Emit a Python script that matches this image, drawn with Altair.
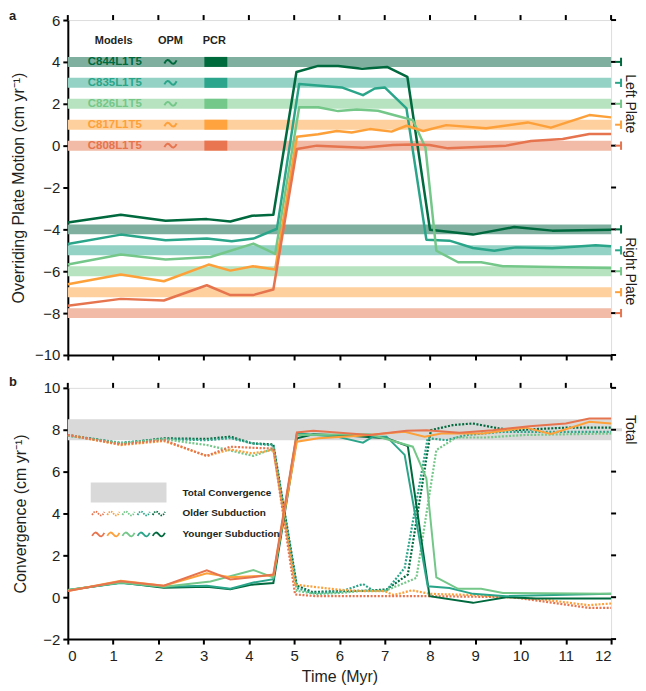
import altair as alt
import pandas as pd

# ---------------- data ----------------
MODELS = ["C844L1T5", "C835L1T5", "C826L1T5", "C817L1T5", "C808L1T5"]
LINE_COLORS = ["#00693e", "#2aa58a", "#74c789", "#fda03a", "#e6744e"]
BAND_COLORS = ["#7fb09f", "#93d2c4", "#b8e3c1", "#fed09e", "#f1bba7"]
PCR_COLORS = ["#006a3d", "#2ba68c", "#74c88a", "#fea33e", "#e8754f"]
LEFT_PLATE_REF = [4, 3, 2, 1, 0]
RIGHT_PLATE_REF = [-4, -5, -6, -7, -8]
TOTAL_BAND = [7.5, 8.5]
TOTAL_REF = 8

# overriding plate motion (panel a)
PM_T = {
    "C844L1T5": [0, 1.17, 2.16, 3.07, 3.59, 4.07, 4.54, 5.05, 5.53, 5.97, 6.5, 7.05, 7.5, 8.0, 8.95, 9.86, 10.7, 12],
    "C835L1T5": [0, 1.17, 2.16, 3.07, 3.62, 4.1, 4.62, 5.11, 6.05, 6.52, 6.78, 7.0, 7.48, 7.92, 8.43, 8.95, 9.42, 9.9, 10.7, 11.66, 12],
    "C826L1T5": [0, 1.17, 2.16, 3.15, 4.1, 4.58, 5.11, 5.53, 5.97, 6.38, 6.85, 7.26, 7.62, 7.9, 8.14, 8.62, 9.13, 9.61, 12],
    "C817L1T5": [0, 1.17, 2.12, 3.11, 3.59, 4.09, 4.58, 5.06, 5.53, 5.94, 6.27, 6.67, 7.15, 7.48, 7.85, 8.36, 9.24, 10.16, 10.67, 11.52, 12],
    "C808L1T5": [0, 1.17, 2.12, 3.07, 3.59, 4.09, 4.54, 5.06, 5.5, 6.01, 6.52, 7.18, 7.62, 7.99, 8.4, 9.68, 10.23, 10.93, 11.52, 12],
}
PM_V = {
    "C844L1T5": [-3.67, -3.3, -3.59, -3.51, -3.62, -3.35, -3.3, 3.52, 3.81, 3.8, 3.67, 3.76, 3.29, -4.02, -4.25, -3.89, -4.06, -4.02],
    "C835L1T5": [-4.7, -4.25, -4.52, -4.44, -4.57, -4.44, -3.97, 2.94, 2.78, 2.41, 2.73, 2.78, 1.78, -4.49, -4.54, -4.89, -5.02, -4.86, -4.9, -4.76, -4.81],
    "C826L1T5": [-5.68, -5.2, -5.44, -5.32, -4.68, -5.17, 1.83, 1.83, 1.65, 1.73, 1.67, 1.43, 1.22, -0.1, -5.02, -5.57, -5.57, -5.76, -5.84],
    "C817L1T5": [-6.62, -6.16, -6.48, -5.68, -5.97, -5.76, -5.92, 0.43, 0.54, 0.7, 0.63, 0.79, 0.67, 0.95, 0.7, 0.98, 0.83, 1.11, 0.86, 1.46, 1.35],
    "C808L1T5": [-7.65, -7.32, -7.4, -6.67, -7.14, -7.14, -6.87, -0.16, 0.0, -0.05, -0.1, 0.03, 0.06, 0.03, -0.13, 0.0, 0.22, 0.32, 0.56, 0.56],
}

# older subduction convergence (panel b, dotted)
OLD_T = {
    "C844L1T5": [0, 1.17, 2.12, 3.07, 3.59, 4.07, 4.54, 5.06, 5.4, 6.0, 6.5, 7.04, 7.51, 8.02, 8.5, 8.94, 9.53, 9.9, 10.34, 11.0, 12],
    "C835L1T5": [0, 1.17, 2.12, 3.07, 3.59, 4.07, 4.54, 5.06, 5.4, 6.0, 6.52, 6.74, 7.04, 7.44, 7.95, 8.36, 8.8, 9.6, 12],
    "C826L1T5": [0, 1.17, 2.12, 3.07, 4.1, 4.54, 5.06, 5.5, 6.0, 6.5, 7.0, 7.4, 7.7, 8.14, 8.58, 9.24, 10.1, 12],
    "C817L1T5": [0, 1.17, 2.12, 3.07, 3.59, 4.07, 4.54, 5.02, 5.94, 6.5, 7.0, 7.2, 7.6, 8.0, 9.0, 10.5, 11.5, 12],
    "C808L1T5": [0, 1.17, 2.12, 3.07, 3.59, 4.07, 4.54, 5.02, 5.5, 7.0, 8.0, 9.8, 10.5, 11.52, 12],
}
OLD_V = {
    "C844L1T5": [7.75, 7.35, 7.59, 7.56, 7.67, 7.35, 7.3, 0.55, 0.25, 0.29, 0.3, 0.37, 1.08, 7.98, 8.22, 8.3, 8.06, 7.98, 8.03, 8.1, 8.1],
    "C835L1T5": [7.72, 7.38, 7.55, 7.5, 7.6, 7.35, 7.25, 0.44, 0.2, 0.25, 0.63, 0.32, 0.32, 1.4, 7.6, 7.5, 7.75, 7.9, 7.9],
    "C826L1T5": [7.72, 7.35, 7.55, 7.27, 6.75, 7.1, 0.3, 0.15, 0.2, 0.3, 0.3, 0.65, 0.92, 7.03, 7.63, 7.63, 7.75, 7.82],
    "C817L1T5": [7.75, 7.27, 7.46, 6.75, 7.06, 6.87, 7.03, 0.6, 0.37, 0.29, 0.29, 0.1, 0.33, 0.16, 0.1, -0.11, -0.38, -0.3],
    "C808L1T5": [7.75, 7.3, 7.5, 6.75, 7.19, 7.14, 7.1, 0.13, 0.05, 0.05, 0.05, 0.0, -0.2, -0.51, -0.51],
}

# younger subduction convergence (panel b, solid)
YNG_T = {
    "C844L1T5": [0, 1.17, 2.12, 3.07, 3.59, 4.07, 4.54, 5.06, 5.42, 6.23, 7.04, 7.51, 7.99, 8.95, 9.68, 10.34, 12],
    "C835L1T5": [0, 1.17, 2.12, 3.07, 3.59, 4.1, 4.54, 5.06, 5.94, 6.52, 6.74, 7.04, 7.44, 7.95, 8.43, 8.95, 9.68, 12],
    "C826L1T5": [0, 1.17, 2.12, 3.15, 4.1, 4.54, 5.06, 6.67, 7.62, 7.92, 8.14, 8.62, 9.13, 9.61, 12],
    "C817L1T5": [0, 1.17, 2.12, 3.07, 3.59, 4.07, 4.54, 5.06, 5.53, 6.45, 7.44, 7.88, 8.25, 9.17, 10.12, 10.67, 11.52, 12],
    "C808L1T5": [0, 1.17, 2.12, 3.07, 3.59, 4.07, 4.54, 5.06, 5.42, 6.67, 7.48, 7.92, 8.65, 9.39, 10.2, 11.0, 11.52, 12],
}
YNG_V = {
    "C844L1T5": [0.33, 0.7, 0.45, 0.5, 0.38, 0.6, 0.68, 7.59, 7.78, 7.71, 7.59, 7.22, 0.05, -0.27, 0.0, -0.06, -0.06],
    "C835L1T5": [0.35, 0.68, 0.5, 0.55, 0.4, 0.7, 0.86, 7.83, 7.67, 7.38, 7.67, 7.67, 6.8, 0.52, 0.44, 0.16, 0.05, 0.16],
    "C826L1T5": [0.35, 0.7, 0.5, 0.75, 1.3, 0.95, 7.75, 7.78, 7.19, 5.68, 0.95, 0.4, 0.4, 0.2, 0.16],
    "C817L1T5": [0.3, 0.78, 0.55, 1.14, 0.95, 1.0, 1.05, 7.43, 7.59, 7.71, 7.9, 7.67, 7.82, 7.82, 8.1, 7.8, 8.38, 8.3],
    "C808L1T5": [0.3, 0.76, 0.55, 1.29, 0.85, 0.95, 1.08, 7.87, 7.95, 7.75, 7.95, 7.98, 7.86, 7.98, 8.17, 8.3, 8.54, 8.54],
}

X_TICKS = list(range(0, 13))
YA_TICKS = list(range(-10, 7, 2))
YB_TICKS = list(range(-2, 11, 2))

# ---------------- tables ----------------
COLOR_OF = dict(zip(MODELS, LINE_COLORS))
BAND_OF = dict(zip(MODELS, BAND_COLORS))
PCR_OF = dict(zip(MODELS, PCR_COLORS))


def long(tdict, vdict):
    rows = []
    for m in MODELS:
        for t, v in zip(tdict[m], vdict[m]):
            rows.append({"model": m, "t": t, "v": v, "c": COLOR_OF[m]})
    return pd.DataFrame(rows)


df_pm = long(PM_T, PM_V)
df_old = long(OLD_T, OLD_V)
df_yng = long(YNG_T, YNG_V)

band_rows = []
for i, m in enumerate(MODELS):
    for side, ref in (("left", LEFT_PLATE_REF), ("right", RIGHT_PLATE_REF)):
        band_rows.append({"model": m, "side": side, "v": ref[i], "bc": BAND_OF[m],
                          "c": COLOR_OF[m], "pc": PCR_OF[m]})
df_band = pd.DataFrame(band_rows)
df_left = df_band[df_band.side == "left"]

df_xt = pd.DataFrame({"t": X_TICKS})
df_yat = pd.DataFrame({"v": YA_TICKS})
df_ybt = pd.DataFrame({"v": YB_TICKS})
df_side = pd.DataFrame({"label": ["Left Plate", "Right Plate"], "v": [2, -6]})
df_total = pd.DataFrame({"lo": [TOTAL_BAND[0]], "hi": [TOTAL_BAND[1]], "ref": [TOTAL_REF], "label": ["Total"]})

# ---------------- chart ----------------
W, H1, H2 = 545, 336, 252
FONT = "Liberation Sans"
TXT = "#231f20"
xs = alt.Scale(domain=[0, 12], nice=False, zero=False)
ysa = alt.Scale(domain=[-10, 6], nice=False, zero=False)
ysb = alt.Scale(domain=[-2, 10], nice=False, zero=False)

xa_axis = alt.Axis(values=X_TICKS, labels=False, title=None, tickSize=5, tickWidth=2,
                   domainWidth=2, domainColor="black", tickColor="black", grid=False)
xb_axis = alt.Axis(values=X_TICKS, title="Time (Myr)", tickSize=5, tickWidth=2, labelFontSize=15,
                   titleFontSize=16, titleFontWeight="normal", labelPadding=4, titlePadding=6,
                   domainWidth=2, domainColor="black", tickColor="black", grid=False,
                   labelColor=TXT, titleColor=TXT, labelFont=FONT, titleFont=FONT)


def yaxis(vals, title, pad):
    return alt.Axis(values=vals, title=title, tickSize=5, tickWidth=2, labelFontSize=15,
                    titleFontSize=16, titleFontWeight="normal", labelPadding=3, titlePadding=pad,
                    domainWidth=2, domainColor="black", tickColor="black", grid=False,
                    labelColor=TXT, titleColor=TXT, labelFont=FONT, titleFont=FONT)


# ---- panel a ----
bands = alt.Chart(df_band).mark_rule(strokeWidth=10).encode(
    y=alt.Y("v:Q", scale=ysa), x=alt.value(0), x2=alt.value(W),
    color=alt.Color("bc:N", scale=None))

lines_a = alt.Chart(df_pm).mark_line(strokeWidth=2.5, strokeJoin="round").encode(
    x=alt.X("t:Q", scale=xs, axis=xa_axis),
    y=alt.Y("v:Q", scale=ysa, axis=yaxis(YA_TICKS, "Overriding Plate Motion (cm yr⁻¹)", 8)),
    color=alt.Color("c:N", scale=None), detail="model:N", order="t:Q")

top_ticks_a = alt.Chart(df_xt).mark_rule(strokeWidth=2, color="black").encode(
    x=alt.X("t:Q", scale=xs), y=alt.value(0), y2=alt.value(-5))
right_ticks_a = alt.Chart(df_yat).mark_rule(strokeWidth=2, color="black").encode(
    y=alt.Y("v:Q", scale=ysa), x=alt.value(W), x2=alt.value(W + 5))

headers = []
for lab, px in (("Models", 46), ("OPM", 103), ("PCR", 147)):
    headers.append(alt.Chart(df_xt.head(1)).mark_text(
        text=lab, font=FONT, fontSize=11, fontWeight="bold", color=TXT, baseline="middle").encode(
        x=alt.value(px), y=alt.value(21)))

model_labels = alt.Chart(df_left).mark_text(
    font=FONT, fontSize=11.5, fontWeight="bold", align="left", baseline="middle", dx=0).encode(
    x=alt.value(20), y=alt.Y("v:Q", scale=ysa), text="model:N", color=alt.Color("c:N", scale=None))

WAVE = "M-1,0.25 C-0.65,-0.45 -0.35,-0.45 0,0 C0.35,0.45 0.65,0.45 1,-0.25"
opm = alt.Chart(df_left).mark_point(shape=WAVE, size=150, strokeWidth=2, filled=False, opacity=1).encode(
    x=alt.value(103), y=alt.Y("v:Q", scale=ysa), color=alt.Color("c:N", scale=None))

pcr = alt.Chart(df_left).mark_rule(strokeWidth=10).encode(
    x=alt.value(137), x2=alt.value(160), y=alt.Y("v:Q", scale=ysa), color=alt.Color("pc:N", scale=None))

mk_h = alt.Chart(df_band).mark_rule(strokeWidth=2).encode(
    x=alt.value(W + 4), x2=alt.value(W + 10), y=alt.Y("v:Q", scale=ysa), color=alt.Color("c:N", scale=None))
mk_v = alt.Chart(df_band).transform_calculate(lo="datum.v - 0.2", hi="datum.v + 0.2").mark_rule(strokeWidth=2).encode(
    x=alt.value(W + 10), y=alt.Y("lo:Q", scale=ysa), y2="hi:Q", color=alt.Color("c:N", scale=None))

side_labels = alt.Chart(df_side).mark_text(angle=90, font=FONT, fontSize=14, color=TXT, baseline="middle").encode(
    x=alt.value(W + 19), y=alt.Y("v:Q", scale=ysa), text="label:N")

lab_a = alt.Chart(df_xt.head(1)).mark_text(text="a", font=FONT, fontSize=13, fontWeight="bold",
                                           color=TXT, align="left", baseline="middle").encode(
    x=alt.value(-59), y=alt.value(-4))

panel_a = alt.layer(bands, *headers, model_labels, opm, pcr, lines_a, top_ticks_a, right_ticks_a,
                    mk_h, mk_v, side_labels, lab_a).properties(width=W, height=H1)

# ---- panel b ----
total_band = alt.Chart(df_total).mark_rect(color="#d9d9d9").encode(
    y=alt.Y("hi:Q", scale=ysb), y2="lo:Q", x=alt.value(0), x2=alt.value(W))

old_lines = alt.Chart(df_old).mark_line(strokeWidth=2.2, strokeDash=[2, 1.6]).encode(
    x=alt.X("t:Q", scale=xs, axis=xb_axis),
    y=alt.Y("v:Q", scale=ysb, axis=yaxis(YB_TICKS, "Convergence (cm yr⁻¹)", 14)),
    color=alt.Color("c:N", scale=None), detail="model:N", order="t:Q")

yng_lines = alt.Chart(df_yng).mark_line(strokeWidth=2).encode(
    x=alt.X("t:Q", scale=xs), y=alt.Y("v:Q", scale=ysb),
    color=alt.Color("c:N", scale=None), detail="model:N", order="t:Q")

top_ticks_b = alt.Chart(df_xt).mark_rule(strokeWidth=2, color="black").encode(
    x=alt.X("t:Q", scale=xs), y=alt.value(0), y2=alt.value(-5))
right_ticks_b = alt.Chart(df_ybt).mark_rule(strokeWidth=2, color="black").encode(
    y=alt.Y("v:Q", scale=ysb), x=alt.value(W), x2=alt.value(W + 5))

total_mark = alt.Chart(df_total).mark_rule(strokeWidth=3, color="#d9d9d9").encode(
    y=alt.Y("ref:Q", scale=ysb), x=alt.value(W + 5), x2=alt.value(W + 11))
total_label = alt.Chart(df_total).mark_text(angle=90, font=FONT, fontSize=14, color=TXT, baseline="middle").encode(
    y=alt.Y("ref:Q", scale=ysb), x=alt.value(W + 19), text="label:N")

leg_rect = alt.Chart(df_total).mark_rect(color="#d9d9d9").encode(
    x=alt.value(23), x2=alt.value(99), y=alt.value(95), y2=alt.value(115))
leg_txt = []
for lab, py in (("Total Convergence", 105), ("Older Subduction", 126), ("Younger Subduction", 147)):
    leg_txt.append(alt.Chart(df_xt.head(1)).mark_text(
        text=lab, font=FONT, fontSize=10, fontWeight="bold", color=TXT, align="left", baseline="middle").encode(
        x=alt.value(115), y=alt.value(py)))
leg_glyphs = []
order_rev = list(reversed(MODELS))
for i, m in enumerate(order_rev):
    px = 30.5 + i * 15.2
    leg_glyphs.append(alt.Chart(df_xt.head(1)).mark_point(
        shape=WAVE, size=150, strokeWidth=1.8, filled=False, opacity=1, color=COLOR_OF[m],
        strokeDash=[1.5, 1.2]).encode(x=alt.value(px), y=alt.value(126)))
    leg_glyphs.append(alt.Chart(df_xt.head(1)).mark_point(
        shape=WAVE, size=150, strokeWidth=1.8, filled=False, opacity=1, color=COLOR_OF[m]).encode(
        x=alt.value(px), y=alt.value(147)))

lab_b = alt.Chart(df_xt.head(1)).mark_text(text="b", font=FONT, fontSize=13, fontWeight="bold",
                                           color=TXT, align="left", baseline="middle").encode(
    x=alt.value(-59), y=alt.value(-6))

panel_b = alt.layer(total_band, old_lines, yng_lines, top_ticks_b, right_ticks_b, total_mark, total_label,
                    leg_rect, *leg_txt, *leg_glyphs, lab_b).properties(width=W, height=H2)

chart = alt.vconcat(panel_a, panel_b, spacing=11).properties(
    padding={"left": 0, "top": 0, "right": 0, "bottom": 0}
).configure_view(stroke="black", strokeWidth=2).configure(font=FONT)

chart.save("out.html", embed_options={"renderer": "svg", "actions": False})
